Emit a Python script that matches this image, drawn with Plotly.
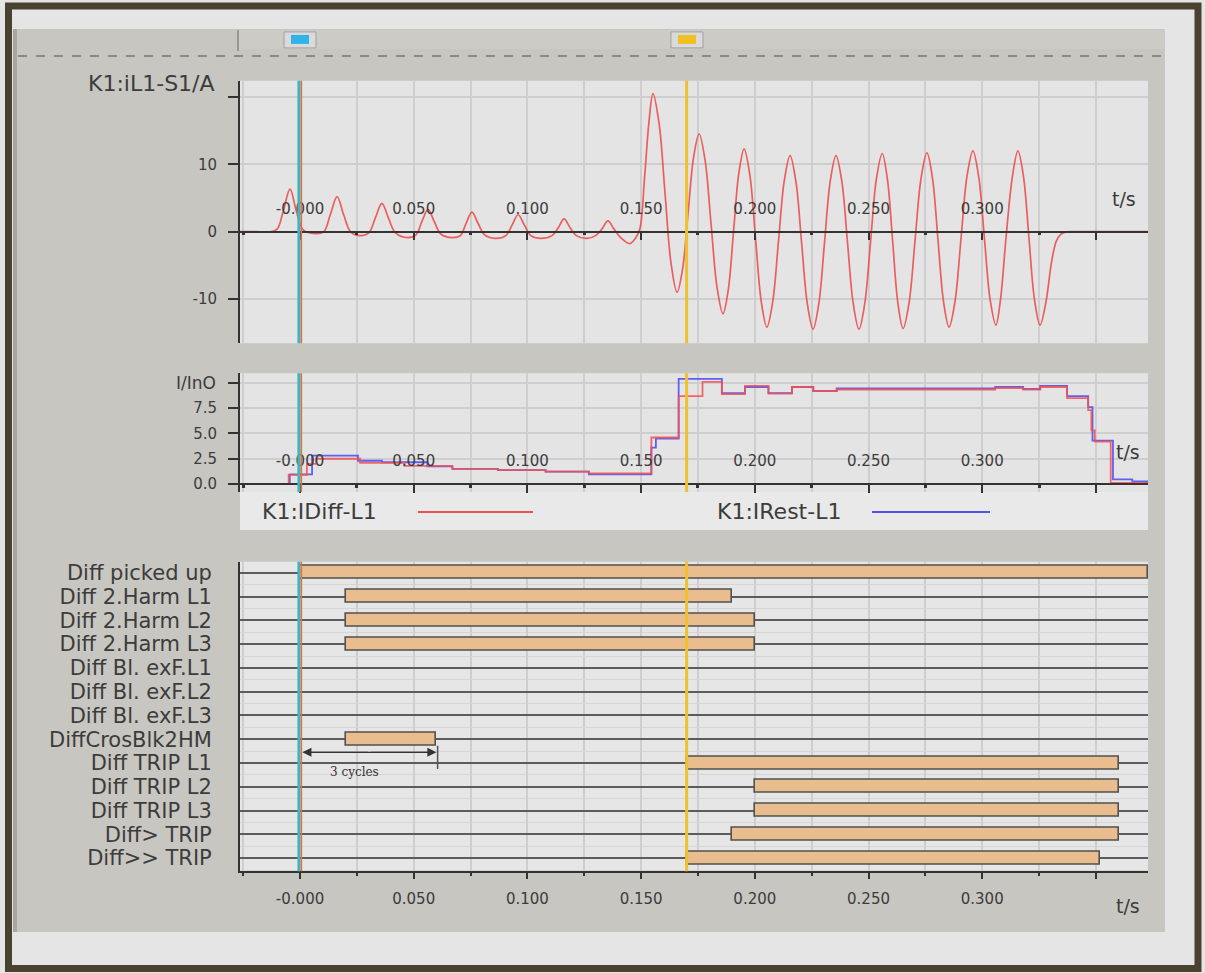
import plotly.graph_objects as go

W, H = 1205, 973

# ---------------- data ----------------
t_range = [-0.0264, 0.3729]

# K1:iL1-S1/A  (time in s, current in A)
wave_t = [-0.0264, -0.0200, -0.0125, -0.0100, -0.0074, -0.0044, -0.0016, 0.0015, 0.0066,
          0.0105, 0.0133, 0.0163, 0.0192, 0.0222, 0.0260,
          0.0302, 0.0331, 0.0360, 0.0389, 0.0420, 0.0475,
          0.0510, 0.0536, 0.0563, 0.0590, 0.0620, 0.0670,
          0.0705, 0.0730, 0.0756, 0.0783, 0.0812, 0.0857,
          0.0905, 0.0933, 0.0959, 0.0986, 0.1015, 0.1055,
          0.1108, 0.1136, 0.1161, 0.1187, 0.1215, 0.1260,
          0.1300, 0.1328, 0.1354, 0.1380, 0.1410, 0.1450,
          0.1475, 0.1495, 0.1515, 0.1535, 0.1552,
          0.15785, 0.1605, 0.16315, 0.1658,
          0.16823, 0.17065, 0.17308, 0.1755,
          0.17813, 0.18075, 0.18338, 0.1860,
          0.18833, 0.19065, 0.19298, 0.1953,
          0.1978, 0.2003, 0.2028, 0.2053,
          0.20785, 0.2104, 0.21295, 0.2155,
          0.21803, 0.22055, 0.22308, 0.2256,
          0.22813, 0.23065, 0.23318, 0.2357,
          0.23823, 0.24075, 0.24328, 0.2458,
          0.24835, 0.2509, 0.25345, 0.2560,
          0.2583, 0.2606, 0.2629, 0.2652,
          0.26783, 0.27045, 0.27308, 0.2757,
          0.27813, 0.28055, 0.28298, 0.2854,
          0.28803, 0.29065, 0.29328, 0.2959,
          0.29843, 0.30095, 0.30348, 0.3060,
          0.30803, 0.31045, 0.31328, 0.3157,
          0.31813, 0.32055, 0.32298, 0.3254,
          0.3280, 0.3305, 0.3325, 0.3345, 0.3370, 0.3400, 0.3450, 0.3729]
wave_i = [0.0, 0.0, 0.0, 0.4, 3.0, 6.3, 3.0, 0.2, -0.3,
          0.0, 2.5, 5.2, 2.5, 0.0, -0.6,
          -0.2, 2.0, 4.2, 2.0, -0.2, -0.9,
          -0.5, 1.5, 3.3, 1.5, -0.4, -0.9,
          -0.6, 1.2, 2.9, 1.2, -0.5, -1.0,
          -0.6, 1.0, 2.5, 1.0, -0.6, -1.0,
          -0.6, 0.6, 1.9, 0.6, -0.6, -1.0,
          -0.6, 0.4, 1.6, 0.4, -0.9, -1.8,
          -1.0, 0.5, 8.0, 16.5, 20.5,
          16.18, 5.75, -4.68, -9.0,
          -5.56, 2.75, 11.06, 14.5,
          10.59, 1.15, -8.29, -12.2,
          -8.61, 0.05, 8.71, 12.3,
          8.42, -0.95, -10.32, -14.2,
          -10.46, -1.45, 7.56, 11.3,
          7.52, -1.6, -10.72, -14.5,
          -10.72, -1.6, 7.52, 11.3,
          7.52, -1.6, -10.72, -14.5,
          -10.68, -1.45, 7.78, 11.6,
          7.79, -1.4, -10.59, -14.4,
          -10.58, -1.35, 7.88, 11.7,
          7.91, -1.25, -10.41, -14.2,
          -10.36, -1.1, 8.16, 12.0,
          8.21, -0.95, -10.11, -13.9,
          -10.11, -0.95, 8.21, 12.0,
          8.21, -0.95, -10.11, -13.9,
          -10.5, -4.5, -1.5, -0.4, -0.05, 0.0, 0.0, 0.0]

# K1:IDiff-L1 (I/InO) step values
idiff_t = [-0.0264, -0.0050, 0.0030, 0.0070, 0.0264, 0.0460, 0.0670, 0.0870, 0.1080,
           0.1270, 0.1545, 0.1665, 0.1770, 0.1855, 0.1957, 0.2060, 0.2163, 0.2257,
           0.2360, 0.3057, 0.3180, 0.3255, 0.3373, 0.3466, 0.3480, 0.3495, 0.3565, 0.3729]
idiff_v = [0.0, 0.9, 2.0, 2.5, 2.1, 1.8, 1.5, 1.38, 1.22,
           1.05, 4.6, 8.7, 10.1, 8.9, 9.7, 8.95, 9.6, 9.2,
           9.35, 9.5, 9.35, 9.6, 8.5, 7.3, 5.3, 4.2, 0.1, 0.1]

# K1:IRest-L1 (I/InO) step values
irest_t = [-0.0264, -0.0045, 0.0053, 0.0255, 0.0360, 0.0560, 0.0670, 0.0870, 0.1080,
           0.1270, 0.1545, 0.1565, 0.1665, 0.1855, 0.1957, 0.2060, 0.2163, 0.2257,
           0.2360, 0.3057, 0.3180, 0.3255, 0.3373, 0.3466, 0.3485, 0.3575, 0.3660, 0.3729]
irest_v = [0.0, 0.95, 2.8, 2.3, 2.15, 1.75, 1.5, 1.38, 1.22,
           0.95, 3.6, 4.5, 10.4, 9.0, 9.6, 9.0, 9.6, 9.2,
           9.45, 9.6, 9.4, 9.7, 8.7, 7.6, 4.3, 0.46, 0.25, 0.25]

# binary signals
rows = ["Diff picked up", "Diff 2.Harm L1", "Diff 2.Harm L2", "Diff 2.Harm L3",
        "Diff Bl. exF.L1", "Diff Bl. exF.L2", "Diff Bl. exF.L3", "DiffCrosBlk2HM",
        "Diff TRIP L1", "Diff TRIP L2", "Diff TRIP L3", "Diff> TRIP", "Diff>> TRIP"]
row_start = [0.000, 0.020, 0.020, 0.020, None, None, None, 0.020, 0.170, 0.200, 0.200, 0.190, 0.170]
row_end = [0.3727, 0.190, 0.200, 0.200, None, None, None, 0.060, 0.360, 0.360, 0.360, 0.360, 0.352]

tick_vals = [0.0, 0.05, 0.10, 0.15, 0.20, 0.25, 0.30, 0.35]
tick_text = ["-0.000", "0.050", "0.100", "0.150", "0.200", "0.250", "0.300", ""]
minor_vals = [-0.025, 0.025, 0.075, 0.125, 0.175, 0.225, 0.275, 0.325]

cursor_a = -0.0005
cursor_b = 0.1700

# ---------------- helpers ----------------
def px(x):
    return x / W


def py(y):
    return 1 - y / H


FONT = "DejaVu Sans"
TXT = "#3c3c3c"
xd = [px(240), px(1148)]
yd_top = [py(343), py(80)]
yd_mid = [py(492), py(373)]
yd_bot = [py(872), py(562)]

fig = go.Figure()

fig.add_trace(go.Scatter(x=wave_t, y=wave_i, mode="lines", xaxis="x", yaxis="y",
                         line=dict(color="rgba(236,70,70,0.85)", width=1.7, shape="spline", smoothing=1.0),
                         hoverinfo="skip", showlegend=False))
fig.add_trace(go.Scatter(x=irest_t, y=irest_v, mode="lines", xaxis="x2", yaxis="y2",
                         line=dict(color="rgba(80,80,245,0.9)", width=1.8, shape="hv"),
                         hoverinfo="skip", showlegend=False))
fig.add_trace(go.Scatter(x=idiff_t, y=idiff_v, mode="lines", xaxis="x2", yaxis="y2",
                         line=dict(color="rgba(242,80,80,0.85)", width=1.8, shape="hv"),
                         hoverinfo="skip", showlegend=False))

by, bx, bb = [], [], []
for i, (s, e) in enumerate(zip(row_start, row_end)):
    if s is not None:
        by.append(i)
        bb.append(s)
        bx.append(e - s)
fig.add_trace(go.Bar(y=by, x=bx, base=bb, orientation="h", width=0.55, xaxis="x3", yaxis="y3",
                     marker=dict(color="#e9bd8d", line=dict(color="#505050", width=1.6)),
                     hoverinfo="skip", showlegend=False))

grid = "#cecece"
common_x = dict(domain=xd, range=t_range, tickmode="array", tickvals=tick_vals, ticktext=tick_text,
                showgrid=True, gridcolor=grid, gridwidth=1.5, zeroline=False,
                showline=True, linecolor="#333333", linewidth=1.5,
                tickfont=dict(family=FONT, size=15, color=TXT), tickcolor="#333333")

pos_top = py(231)
pos_mid = py(484)

layout = dict(
    width=W, height=H, margin=dict(l=0, r=0, t=0, b=0),
    paper_bgcolor="#e5e5e5", plot_bgcolor="rgba(0,0,0,0)",
    showlegend=False, bargap=0,
    xaxis=dict(**common_x, anchor="free", position=pos_top, side="top",
               ticks="inside", ticklen=8, tickwidth=2, ticklabelstandoff=11,
               minor=dict(tickmode="array", tickvals=minor_vals, ticks="inside", ticklen=3,
                          tickwidth=3, tickcolor="#333333", showgrid=True, gridcolor=grid, gridwidth=1.5)),
    yaxis=dict(domain=yd_top, range=[-16.6, 22.4], anchor="x", tickmode="array",
               tickvals=[-10, 0, 10, 20], ticktext=["-10", "0", "10", ""],
               ticks="outside", ticklen=10, tickwidth=1.5, tickcolor="#333333",
               showline=True, linecolor="#333333", linewidth=2, zeroline=False,
               showgrid=True, gridcolor=grid, gridwidth=1.5, ticklabelstandoff=8,
               tickfont=dict(family=FONT, size=15, color=TXT)),
    xaxis2=dict(**common_x, anchor="free", position=pos_mid, side="top",
                ticks="inside", ticklen=8, tickwidth=2, ticklabelstandoff=11,
                minor=dict(tickmode="array", tickvals=minor_vals, ticks="inside", ticklen=3,
                           tickwidth=3, tickcolor="#333333", showgrid=True, gridcolor=grid, gridwidth=1.5)),
    yaxis2=dict(domain=yd_mid, range=[-0.79, 10.96], anchor="x2", tickmode="array",
                tickvals=[0, 2.5, 5, 7.5, 10], ticktext=["0.0", "2.5", "5.0", "7.5", ""],
                ticks="outside", ticklen=10, tickwidth=1.5, tickcolor="#333333",
                showline=True, linecolor="#333333", linewidth=2, zeroline=False,
                showgrid=True, gridcolor=grid, gridwidth=1.5, ticklabelstandoff=8,
                tickfont=dict(family=FONT, size=15, color=TXT)),
    xaxis3=dict(**common_x, anchor="y3", side="bottom",
                ticks="outside", ticklen=6, tickwidth=2, ticklabelstandoff=7,
                minor=dict(tickmode="array", tickvals=minor_vals, ticks="outside", ticklen=3,
                           tickwidth=2, tickcolor="#333333", showgrid=True, gridcolor=grid, gridwidth=1.5)),
    yaxis3=dict(domain=yd_bot, range=[12.55, -0.46], anchor="x3", tickmode="array",
                tickvals=list(range(len(rows))), ticktext=rows, ticks="",
                showline=True, linecolor="#333333", linewidth=2, zeroline=False,
                showgrid=True, gridcolor="#5c5c5c", gridwidth=1.5, ticklabelstandoff=22,
                tickfont=dict(family=FONT, size=21, color=TXT),
                minor=dict(tickmode="array", tickvals=[i + 0.5 for i in range(-1, len(rows))],
                           showgrid=True, gridcolor="#d6d6d6", gridwidth=1)),
)
fig.update_layout(**layout)

shapes = []
def prect(x0, y0, x1, y1, fill, line=None, lw=0, layer="below"):
    shapes.append(dict(type="rect", xref="paper", yref="paper", x0=px(x0), x1=px(x1),
                       y0=py(y1), y1=py(y0), fillcolor=fill,
                       line=dict(color=line or fill, width=lw), layer=layer))

# window / panel backgrounds
prect(13, 28, 1165, 933, "#c8c6c1")
prect(13, 28, 17, 933, "#a8a6a0")
prect(238, 29, 1165, 48, "#cdcbc6")
shapes.append(dict(type="line", xref="paper", yref="paper", x0=px(238), x1=px(238), y0=py(29), y1=py(50),
                   line=dict(color="#9a9893", width=2), layer="below"))
prect(284, 31, 316, 47, "#dadada", "#a0a0a0", 1)
prect(291, 34, 309, 43, "#2fb3e8")
prect(671, 31, 703, 47, "#dadada", "#a0a0a0", 1)
prect(678, 34, 696, 43, "#f0c020")
shapes.append(dict(type="line", xref="paper", yref="paper", x0=px(18), x1=px(1162), y0=py(55), y1=py(55),
                   line=dict(color="#8a8a8a", width=2, dash="dash"), layer="below"))
# plot area backgrounds
prect(240, 80, 1148, 343, "#e4e4e4")
prect(240, 373, 1148, 492, "#e4e4e4")
prect(240, 492, 1148, 530, "#e9e9e9")
prect(240, 562, 1148, 872, "#e6e6e6")
# outer frame
shapes.append(dict(type="rect", xref="paper", yref="paper", x0=px(8.5), x1=px(1198), y0=py(969.5), y1=py(5),
                   line=dict(color="#4a4230", width=7), fillcolor="rgba(0,0,0,0)", layer="above"))

# legend glyphs
shapes.append(dict(type="line", xref="paper", yref="paper", x0=px(418), x1=px(533), y0=py(512), y1=py(512),
                   line=dict(color="#f05050", width=2)))
shapes.append(dict(type="line", xref="paper", yref="paper", x0=px(872), x1=px(990), y0=py(512), y1=py(512),
                   line=dict(color="#5050f0", width=2)))

# cursors
for yref in ["y domain", "y2 domain", "y3 domain"]:
    xr = {"y domain": "x", "y2 domain": "x2", "y3 domain": "x3"}[yref]
    shapes.append(dict(type="line", xref=xr, yref=yref, x0=cursor_a, x1=cursor_a, y0=0, y1=1,
                       line=dict(color="#3cb6c6", width=3), layer="above"))
    shapes.append(dict(type="line", xref=xr, yref=yref, x0=cursor_a + 0.0011, x1=cursor_a + 0.0011, y0=0, y1=1,
                       line=dict(color="#e0703c", width=1.5), layer="above"))
    shapes.append(dict(type="line", xref=xr, yref=yref, x0=cursor_b, x1=cursor_b, y0=0, y1=1,
                       line=dict(color="#f0c030", width=3), layer="above"))

# 3 cycles marker
shapes.append(dict(type="line", xref="x3", yref="y3", x0=0.0605, x1=0.0605, y0=7.27, y1=8.25,
                   line=dict(color="#555555", width=1.5)))
shapes.append(dict(type="line", xref="x3", yref="y3", x0=0.004, x1=0.057, y0=7.55, y1=7.55,
                   line=dict(color="#333333", width=1.3)))
fig.update_layout(shapes=shapes)

ann = []
def ptext(x, y, text, size, anchor="left", fam=FONT, color=TXT):
    ann.append(dict(xref="paper", yref="paper", x=px(x), y=py(y), text=text, showarrow=False,
                    xanchor=anchor, yanchor="middle", font=dict(family=fam, size=size, color=color)))

ptext(217, 83, "K1:iL1-S1/A", 22, "right")
ptext(218, 383, "I/InO", 17, "right")
ptext(1124, 198, "t/s", 19, "center")
ptext(1128, 452, "t/s", 19, "center")
ptext(1128, 907, "t/s", 19, "center")
ptext(260, 512, "K1:IDiff-L1", 22, "left")
ptext(715, 512, "K1:IRest-L1", 22, "left")

for tgt in [0.001, 0.0600]:
    ann.append(dict(xref="x3", yref="y3", axref="x3", ayref="y3", x=tgt, y=7.55, ax=0.0305, ay=7.55,
                    text="", showarrow=True, arrowhead=2, arrowsize=1.4, arrowwidth=1.3,
                    arrowcolor="#333333"))
ann.append(dict(xref="x3", yref="y3", x=0.0238, y=8.39, text="3 cycles", showarrow=False,
                font=dict(family="DejaVu Serif", size=12, color="#333333")))
fig.update_layout(annotations=ann)

fig.write_html("out.html", config=dict(displayModeBar=False),
               post_script="document.body.style.margin='0px';document.body.style.overflow='hidden';")
